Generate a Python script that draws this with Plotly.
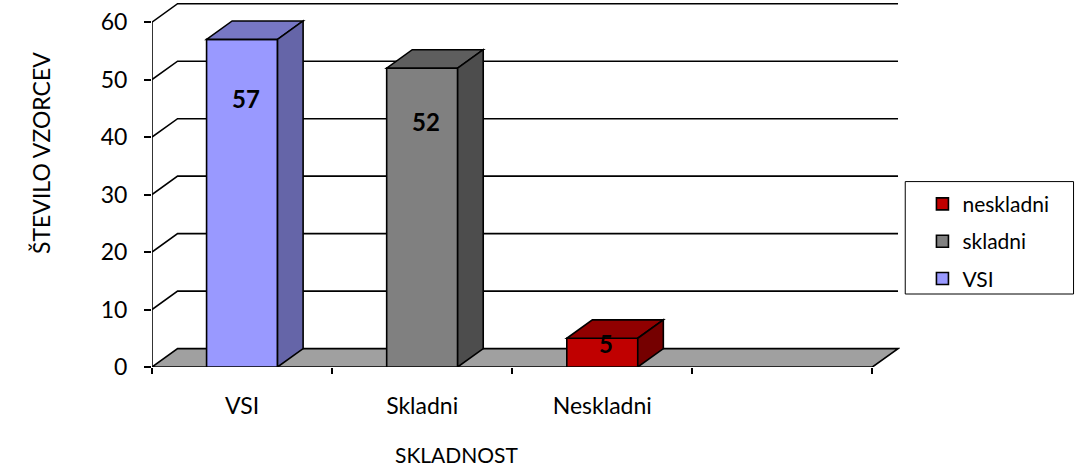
import plotly.graph_objects as go

# ---- data ----
categories = ["VSI", "Skladni", "Neskladni"]
series_names = ["VSI", "skladni", "neskladni"]
values = [57, 52, 5]
y_ticks = [0, 10, 20, 30, 40, 50, 60]
x_title = "SKLADNOST"
y_title = "ŠTEVILO VZORCEV"

# ---- style ----
front_colors = ["#9999FF", "#808080", "#C00000"]
top_colors = ["#7777C4", "#5E5E5E", "#900000"]
side_colors = ["#6565A8", "#4D4D4D", "#750000"]
floor_color = "#A0A0A0"
FONT = "Lato"
DX = 0.142     # depth offset in x units
DY = 3.2       # depth offset in y units
BAR_W = 0.394
LW = 1.6
n_slots = len(categories) + 1
x_lo, x_hi = -0.5, n_slots - 0.5
y_max = max(y_ticks)

fig = go.Figure()
# legend lists the series in reverse order (neskladni first)
for i in reversed(range(len(values))):
    fig.add_trace(go.Bar(
        x=[i], y=[values[i]], name=series_names[i], width=BAR_W,
        marker=dict(color=front_colors[i], line=dict(color="black", width=LW)),
        legendgroup=series_names[i], hoverinfo="y",
    ))

shapes = []
def path(pts):
    return "M " + " L ".join(f"{x},{y}" for x, y in pts) + " Z"

# back-wall gridlines
for t in y_ticks[1:]:
    shapes.append(dict(type="path", xref="x", yref="y", layer="below",
                       path=f"M {x_lo},{t} L {x_lo+DX},{t+DY} L {x_hi+DX},{t+DY}",
                       line=dict(color="black", width=LW)))
# floor
shapes.append(dict(type="path", xref="x", yref="y", layer="below",
                   path=path([(x_lo, 0), (x_hi, 0), (x_hi+DX, DY), (x_lo+DX, DY)]),
                   fillcolor=floor_color, line=dict(color="black", width=LW)))
# y axis line
shapes.append(dict(type="line", xref="x", yref="y", layer="above",
                   x0=x_lo, y0=0, x1=x_lo, y1=y_max, line=dict(color="black", width=LW)))
# 3D faces of bars
for i, v in enumerate(values):
    x0, x1 = i - BAR_W/2, i + BAR_W/2
    shapes.append(dict(type="path", xref="x", yref="y", layer="above",
                       path=path([(x0, v), (x1, v), (x1+DX, v+DY), (x0+DX, v+DY)]),
                       fillcolor=top_colors[i], line=dict(color="black", width=LW)))
    shapes.append(dict(type="path", xref="x", yref="y", layer="above",
                       path=path([(x1, 0), (x1, v), (x1+DX, v+DY), (x1+DX, DY)]),
                       fillcolor=side_colors[i], line=dict(color="black", width=LW)))

# legend border
shapes.append(dict(type="rect", xref="paper", yref="paper",
                   x0=1.007, x1=1.232, y0=0.20, y1=0.508,
                   line=dict(color="black", width=1), fillcolor="rgba(0,0,0,0)"))

annotations = []
for i, v in enumerate(values):
    annotations.append(dict(x=i + 0.02, y=v * 0.82, xref="x", yref="y", text=f"<b>{v}</b>",
                            showarrow=False, font=dict(family=FONT, size=24, color="black")))
annotations.append(dict(x=(457 - 152) / 748, y=-(455 - 367) / 365, xref="paper", yref="paper",
                        text=x_title, showarrow=False, yanchor="middle",
                        font=dict(family=FONT, size=21, color="black")))
annotations.append(dict(x=(25 - 152) / 748, y=(367 - 153) / 365, xref="paper", yref="paper",
                        text=y_title, textangle=-90, showarrow=False,
                        font=dict(family=FONT, size=23, color="black")))

fig.update_layout(
    width=1075, height=466,
    margin=dict(l=152, r=175, t=2, b=99, autoexpand=False),
    paper_bgcolor="white", plot_bgcolor="white",
    barmode="overlay", showlegend=True,
    shapes=shapes, annotations=annotations,
    font=dict(family=FONT, color="black"),
    legend=dict(x=1.03, y=0.502, xanchor="left", yanchor="top",
                traceorder="grouped", tracegroupgap=7,
                font=dict(family=FONT, size=21, color="black"),
                bgcolor="rgba(0,0,0,0)", borderwidth=0),
    xaxis=dict(range=[x_lo, x_hi + DX + 0.011], tickvals=list(range(len(categories))),
               ticktext=categories, ticks="", showgrid=False, zeroline=False, showline=False,
               automargin=False,
               tickfont=dict(family=FONT, size=23, color="black"), ticklabelstandoff=23,
               minor=dict(tickvals=[k - 0.5 for k in range(n_slots + 1)], ticks="outside",
                          ticklen=6, tickwidth=1.5, tickcolor="black", showgrid=False)),
    yaxis=dict(range=[0, 63.5], tickvals=y_ticks, ticks="outside", ticklen=7, tickwidth=1.5,
               tickcolor="black", showgrid=False, zeroline=False, showline=False,
               automargin=False,
               tickfont=dict(family=FONT, size=23, color="black"), ticklabelstandoff=12),
)

fig.write_html("out.html", config={"displayModeBar": False},
               post_script="document.body.style.margin='0';document.body.style.overflow='hidden';")
